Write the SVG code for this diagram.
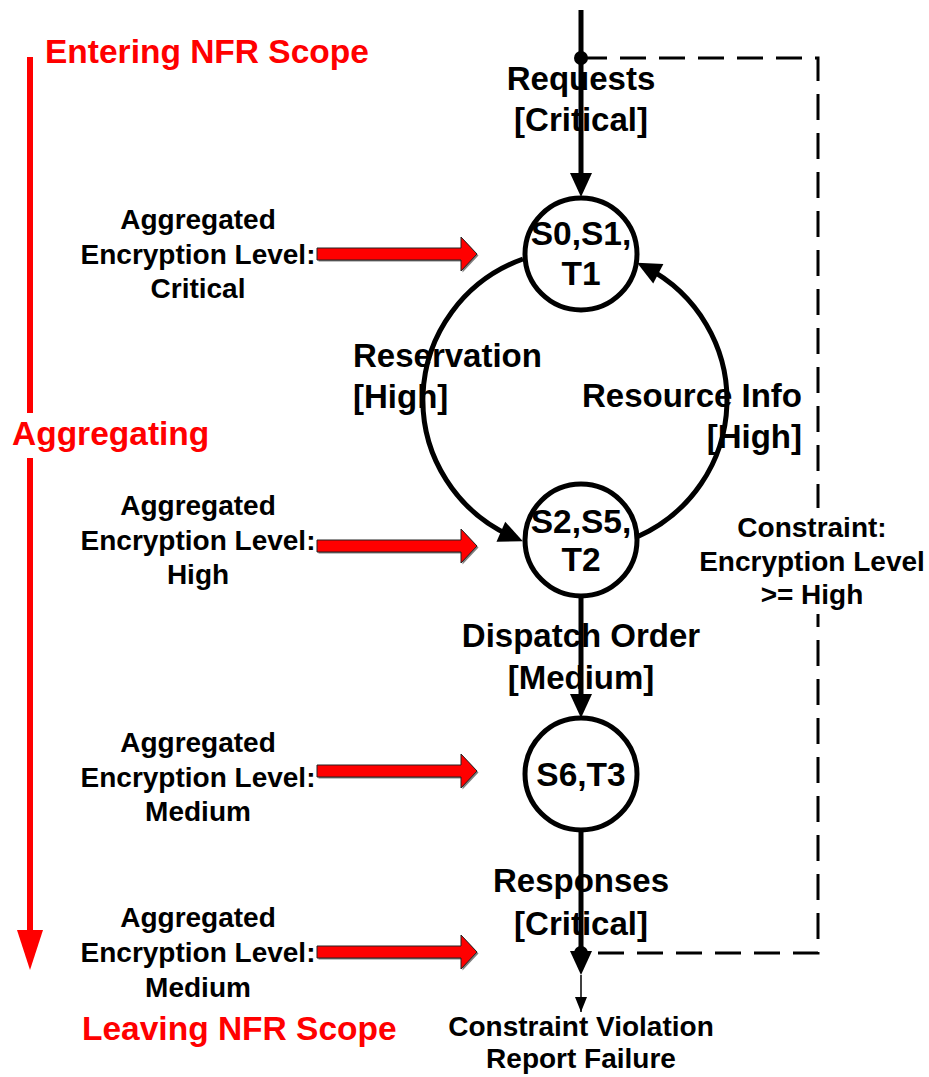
<svg xmlns="http://www.w3.org/2000/svg" width="929" height="1077" viewBox="0 0 929 1077">
<style>
text{font-family:"Liberation Sans",Arial,sans-serif;font-weight:bold;fill:#000}
.big{font-size:33px}
.red{font-size:33.5px;fill:#FF0000}
.side{font-size:28px;text-anchor:middle}
.mid{text-anchor:middle}
.end{text-anchor:end}
.node circle{fill:#fff;stroke:#000;stroke-width:5}
.node text{font-size:33.5px;text-anchor:middle}
.edge{fill:none;stroke:#000;stroke-width:5}
.dash{fill:none;stroke:#000;stroke-width:3;stroke-dasharray:26 13}
</style>
<defs>
<marker id="ah" markerUnits="userSpaceOnUse" markerWidth="26" markerHeight="24" refX="14" refY="11" orient="auto" overflow="visible">
<path d="M0,0 L24,11 L0,22 z" fill="#000"/>
</marker>
<marker id="ahs" markerUnits="userSpaceOnUse" markerWidth="16" markerHeight="14" refX="15" refY="6" orient="auto" overflow="visible">
<path d="M0,0 L15,6 L0,12 z" fill="#000"/>
</marker>
<path id="redArrow" d="M317,-6 H461 V-17 L477,0 L461,17 V6 H317 z"/>
</defs>
<rect width="929" height="1077" fill="#fff"/>

<g id="scope">
<text class="red" x="45" y="63">Entering NFR Scope</text>
<text class="red" x="12" y="445">Aggregating</text>
<text class="red" x="82" y="1040">Leaving NFR Scope</text>
<path d="M30,57 V413 M30,458 V932" stroke="#FF0000" stroke-width="6" fill="none"/>
<polygon points="17,930 43,930 30,970" fill="#FF0000"/>
</g>

<g id="levels">
<text class="side"><tspan x="198" y="229">Aggregated</tspan><tspan x="198" y="264">Encryption Level:</tspan><tspan x="198" y="298">Critical</tspan></text>
<text class="side"><tspan x="198" y="515">Aggregated</tspan><tspan x="198" y="550">Encryption Level:</tspan><tspan x="198" y="584">High</tspan></text>
<text class="side"><tspan x="198" y="752">Aggregated</tspan><tspan x="198" y="787">Encryption Level:</tspan><tspan x="198" y="821">Medium</tspan></text>
<text class="side"><tspan x="198" y="927">Aggregated</tspan><tspan x="198" y="962">Encryption Level:</tspan><tspan x="198" y="997">Medium</tspan></text>
<g fill="#808080" transform="translate(1.5,1.5)">
<use href="#redArrow" y="254"/><use href="#redArrow" y="546"/><use href="#redArrow" y="771"/><use href="#redArrow" y="952"/>
</g>
<g fill="#FF0000" stroke="#222" stroke-width="1">
<use href="#redArrow" y="254"/><use href="#redArrow" y="546"/><use href="#redArrow" y="771"/><use href="#redArrow" y="952"/>
</g>
</g>

<g id="edge-labels">
<text class="big mid"><tspan x="581" y="90">Requests</tspan><tspan x="581" y="131">[Critical]</tspan></text>
<text class="big"><tspan x="353" y="367">Reservation</tspan><tspan x="353" y="408">[High]</tspan></text>
<text class="big end"><tspan x="802" y="407">Resource Info</tspan><tspan x="802" y="448">[High]</tspan></text>
<text class="big mid"><tspan x="581" y="647">Dispatch Order</tspan><tspan x="581" y="689">[Medium]</tspan></text>
<text class="big mid"><tspan x="581" y="892">Responses</tspan><tspan x="581" y="935">[Critical]</tspan></text>
<text class="mid" style="font-size:28px"><tspan x="581" y="1036">Constraint Violation</tspan><tspan x="581" y="1068">Report Failure</tspan></text>
</g>

<g id="connectors">
<path class="dash" d="M581,58 H818 V953 H581"/>
<path class="edge" d="M581,10 V187" marker-end="url(#ah)"/>
<path class="edge" d="M523,259 A152,150 0 0 0 513.7,537.3" marker-end="url(#ah)"/>
<path class="edge" d="M636.8,537 A152,150 0 0 0 645.9,267.3" marker-end="url(#ah)"/>
<path class="edge" d="M581,598 V708" marker-end="url(#ah)"/>
<path class="edge" d="M581,830 V965" marker-end="url(#ah)"/>
<path d="M581,975 V1012" stroke="#000" stroke-width="1.5" fill="none" marker-end="url(#ahs)"/>
<circle cx="581" cy="58" r="7" fill="#000"/>
<circle cx="581" cy="953" r="7" fill="#000"/>
</g>

<g id="constraint">
<rect x="696" y="508" width="231" height="106" fill="#fff"/>
<text class="mid" style="font-size:28px"><tspan x="812" y="537">Constraint:</tspan><tspan x="812" y="571">Encryption Level</tspan><tspan x="812" y="604">&gt;= High</tspan></text>
</g>

<g id="n-s0s1t1" class="node">
<circle cx="581" cy="254" r="56"/>
<text><tspan x="581" y="245">S0,S1,</tspan><tspan x="581" y="285">T1</tspan></text>
</g>
<g id="n-s2s5t2" class="node">
<circle cx="581" cy="540" r="56"/>
<text><tspan x="581" y="533">S2,S5,</tspan><tspan x="581" y="571">T2</tspan></text>
</g>
<g id="n-s6t3" class="node">
<circle cx="581" cy="774" r="56"/>
<text><tspan x="581" y="786">S6,T3</tspan></text>
</g>
</svg>
